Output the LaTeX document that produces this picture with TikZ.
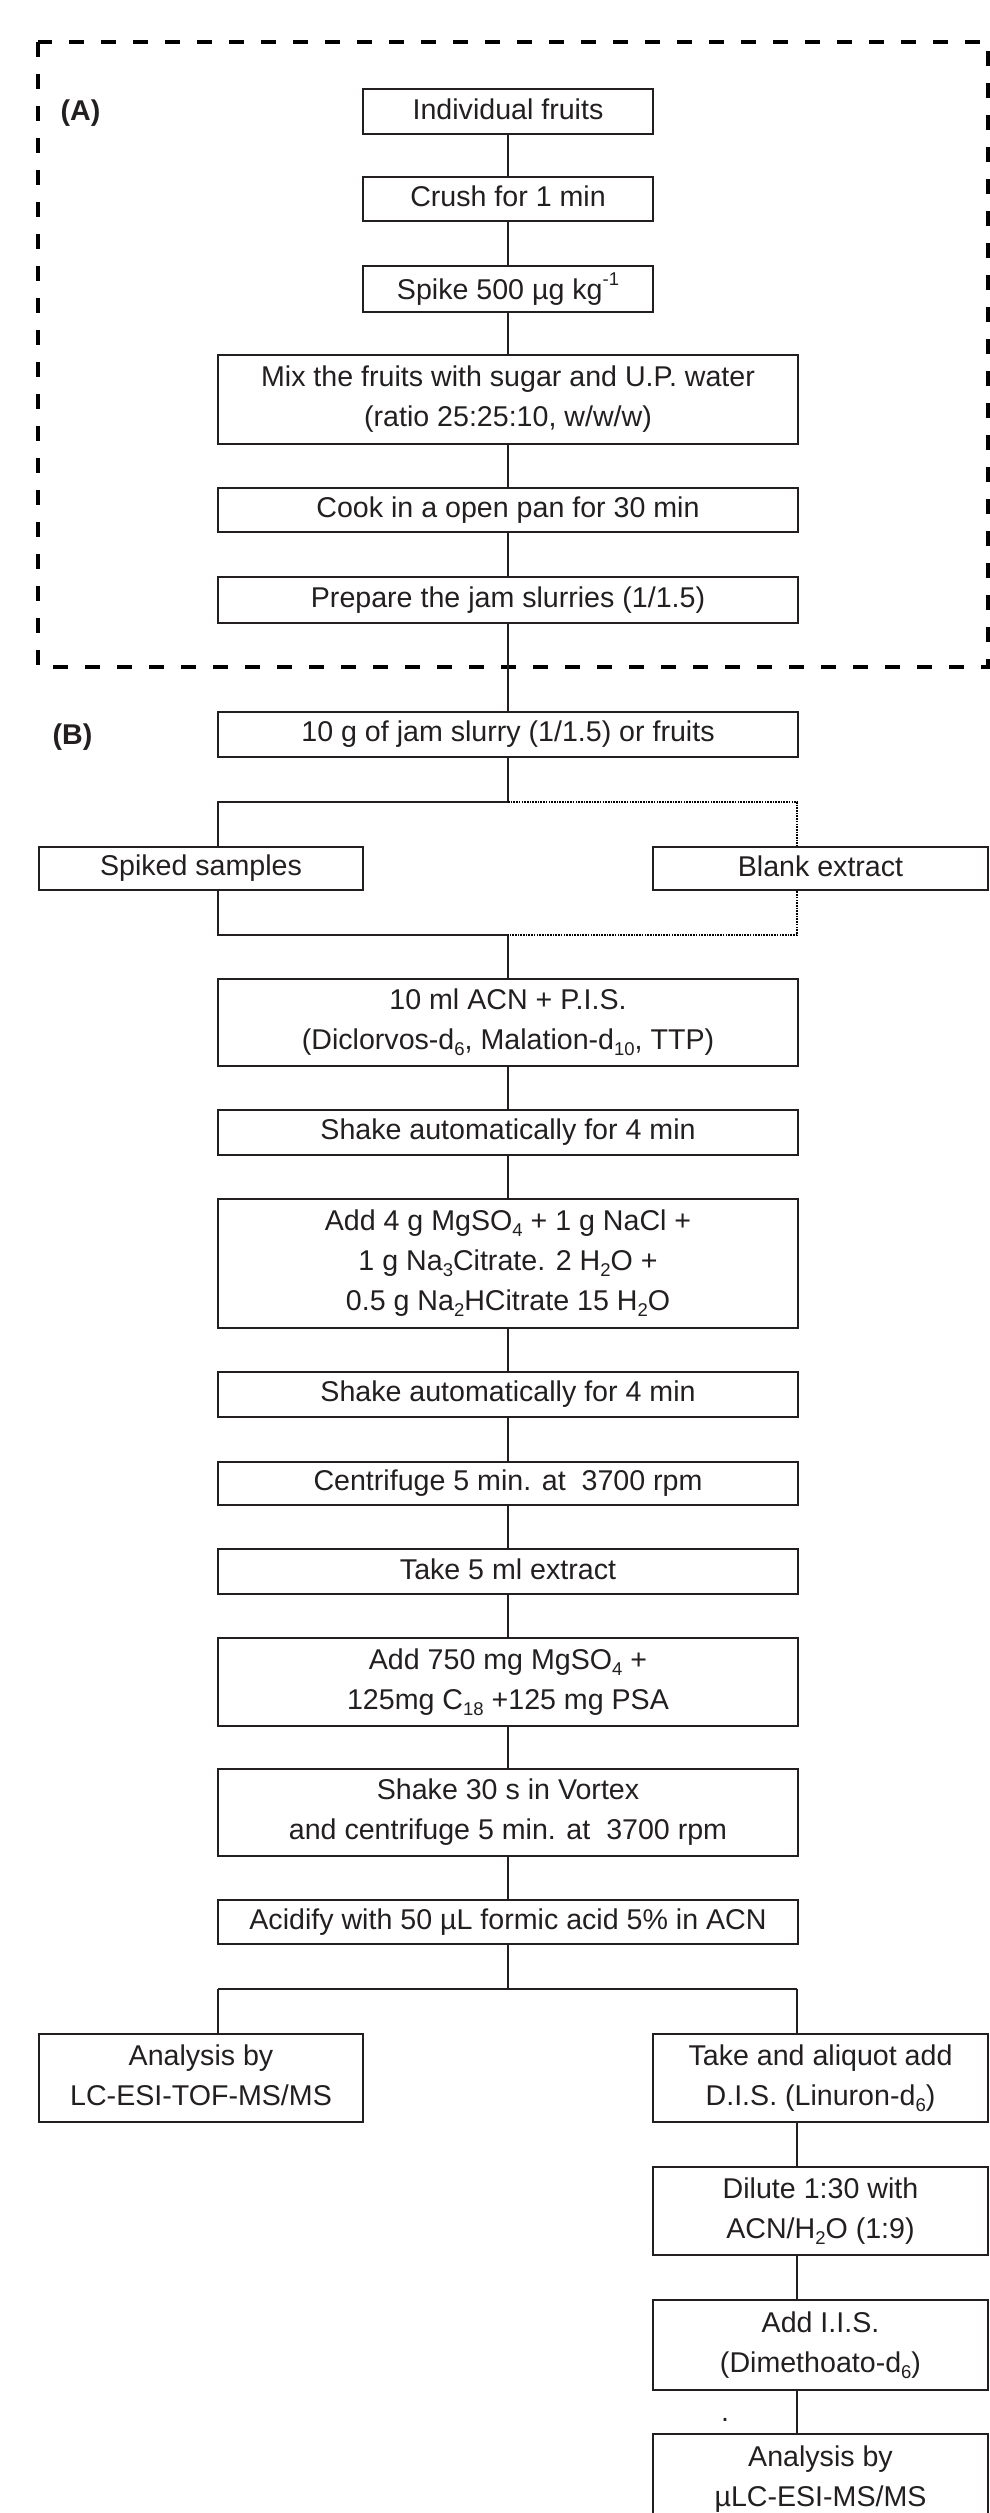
\documentclass[tikz,border=0pt]{standalone}
\usepackage{fontspec}
\setmainfont{Liberation Sans}
\definecolor{ink}{RGB}{35,31,32}
% uniform line height so every line is centred the same way
\newcommand{\kstrut}{\rule[-0.2em]{0pt}{0.92em}}
% chemical subscripts and exponents
\newcommand{\sbs}[1]{\raisebox{-0.2em}{\fontsize{18.5}{18.5}\selectfont #1}}
\newcommand{\sps}[1]{\raisebox{0.5em}{\fontsize{18.5}{18.5}\selectfont #1}}
\begin{document}
\begin{tikzpicture}[x=1pt, y=-1pt,
  font=\fontsize{28.6}{40}\selectfont,
  box/.style={draw=ink, line width=2.9pt, fill=white, inner sep=0pt,
              align=center, text=ink},
  narrow/.style={box, minimum width=290pt},
  wide/.style={box, minimum width=580pt},
  side/.style={box, minimum width=324pt},
  rside/.style={box, minimum width=335pt},
  conn/.style={draw=ink, line width=1.9pt},
  dots/.style={draw=black, line width=2.2pt, dash pattern=on 1.6pt off 1.1pt},
  frame/.style={draw=black, line width=4.2pt, dash pattern=on 15pt off 17pt},
  tag/.style={text=ink, font=\fontsize{28.6}{40}\selectfont\bfseries}
]
\useasboundingbox (0,0) rectangle (990,2513);

% ---------- (A) jam preparation ----------
\draw[frame] (38,42) rectangle (988,667);
\node[tag] (labA) at (80.5,113) {(A)};

\node[narrow, minimum height=45pt] (ind)   at (508,111.5) {\kstrut Individual fruits};
\node[narrow, minimum height=44pt] (crush) at (508,199)   {\kstrut Crush for 1 min};
\node[narrow, minimum height=46pt] (spike) at (508,289)   {\kstrut Spike 500 µg kg\sps{-1}};
\node[wide, minimum height=89pt]   (mix)   at (508,399.5) {\kstrut Mix the fruits with sugar and U.P. water\\\kstrut (ratio 25:25:10, w/w/w)};
\node[wide, minimum height=44pt]   (cook)  at (508,510)   {\kstrut Cook in a open pan for 30 min};
\node[wide, minimum height=46pt]   (prep)  at (508,600)   {\kstrut Prepare the jam slurries (1/1.5)};

% ---------- (B) extraction ----------
\node[tag] (labB) at (72.5,737.5) {(B)};
\node[wide, minimum height=45pt]   (teng)   at (508,734.5) {\kstrut 10 g of jam slurry (1/1.5) or fruits};
\node[side, minimum height=43pt]   (spiked) at (201,868.5) {\kstrut Spiked samples};
\node[rside, minimum height=43pt]  (blank)  at (820.5,868.5) {\kstrut Blank extract};

\node[wide, minimum height=87pt]   (tenml)  at (508,1022.5) {\kstrut 10 ml ACN + P.I.S.\\\kstrut (Diclorvos-d\sbs{6}, Malation-d\sbs{10}, TTP)};
\node[wide, minimum height=45pt]   (shakeA) at (508,1132.5) {\kstrut Shake automatically for 4 min};
\node[wide, minimum height=129pt]  (salts)  at (508,1263.5) {\kstrut Add 4 g MgSO\sbs{4} + 1 g NaCl +\\\kstrut 1 g Na\sbs{3}Citrate. 2 H\sbs{2}O +\\\kstrut 0.5 g Na\sbs{2}HCitrate 15 H\sbs{2}O};
\node[wide, minimum height=45pt]   (shakeB) at (508,1394.5) {\kstrut Shake automatically for 4 min};
\node[wide, minimum height=43pt]   (centri) at (508,1483.5) {\kstrut Centrifuge 5 min. at~ 3700 rpm};
\node[wide, minimum height=45pt]   (takefive) at (508,1571.5) {\kstrut Take 5 ml extract};
\node[wide, minimum height=88pt]   (dspe)   at (508,1682) {\kstrut Add 750 mg MgSO\sbs{4} +\\\kstrut 125mg C\sbs{18} +125 mg PSA};
\node[wide, minimum height=87pt]   (vortex) at (508,1812.5) {\kstrut Shake 30 s in Vortex\\\kstrut and centrifuge 5 min. at~ 3700 rpm};
\node[wide, minimum height=44pt]   (acid)   at (508,1922) {\kstrut Acidify with 50 µL formic acid 5\% in ACN};

\node[side, minimum height=88pt]   (tof)  at (201,2078)   {\kstrut Analysis by\\\kstrut LC-ESI-TOF-MS/MS};
\node[rside, minimum height=88pt]  (aliq) at (820.5,2078) {\kstrut Take and aliquot add\\\kstrut D.I.S. (Linuron-d\sbs{6})};
\node[rside, minimum height=88pt]  (dil)  at (820.5,2211) {\kstrut Dilute 1:30 with\\\kstrut ACN/H\sbs{2}O (1:9)};
\node[rside, minimum height=90pt]  (iis)  at (820.5,2345) {\kstrut Add I.I.S.\\\kstrut (Dimethoato-d\sbs{6})};
\node[rside, minimum height=90pt]  (mulc) at (820.5,2479) {\kstrut Analysis by\\\kstrut µLC-ESI-MS/MS};
\node[text=ink, inner sep=0pt, anchor=base] (dot) at (725,2421.5) {.};

% ---------- junction points ----------
\coordinate (jA)  at (508,802);
\coordinate (jAL) at (218,802);
\coordinate (jAR) at (797,802);
\coordinate (kA)  at (508,935);
\coordinate (kAL) at (218,935);
\coordinate (kAR) at (797,935);
\coordinate (jB)  at (508,1989);
\coordinate (jBL) at (218,1989);
\coordinate (jBR) at (797,1989);

% ---------- connectors ----------
\draw[conn] (ind) -- (crush);
\draw[conn] (crush) -- (spike);
\draw[conn] (spike) -- (mix);
\draw[conn] (mix) -- (cook);
\draw[conn] (cook) -- (prep);
\draw[conn] (prep) -- (teng);

\draw[conn] (teng) -- (jA) -- (jAL) -- (jAL |- spiked.north);
\draw[dots] (jA) -- (jAR) -- (jAR |- blank.north);
\draw[conn] (jAL |- spiked.south) -- (kAL) -- (kA) -- (tenml);
\draw[dots] (jAR |- blank.south) -- (kAR) -- (kA);

\draw[conn] (tenml) -- (shakeA);
\draw[conn] (shakeA) -- (salts);
\draw[conn] (salts) -- (shakeB);
\draw[conn] (shakeB) -- (centri);
\draw[conn] (centri) -- (takefive);
\draw[conn] (takefive) -- (dspe);
\draw[conn] (dspe) -- (vortex);
\draw[conn] (vortex) -- (acid);

\draw[conn] (acid) -- (jB);
\draw[conn] (jBL) -- (jBR);
\draw[conn] (jBL) -- (jBL |- tof.north);
\draw[conn] (jBR) -- (jBR |- aliq.north);
\draw[conn] (aliq.south -| jBR) -- (dil.north -| jBR);
\draw[conn] (dil.south -| jBR) -- (iis.north -| jBR);
\draw[conn] (iis.south -| jBR) -- (mulc.north -| jBR);
\end{tikzpicture}
\end{document}
